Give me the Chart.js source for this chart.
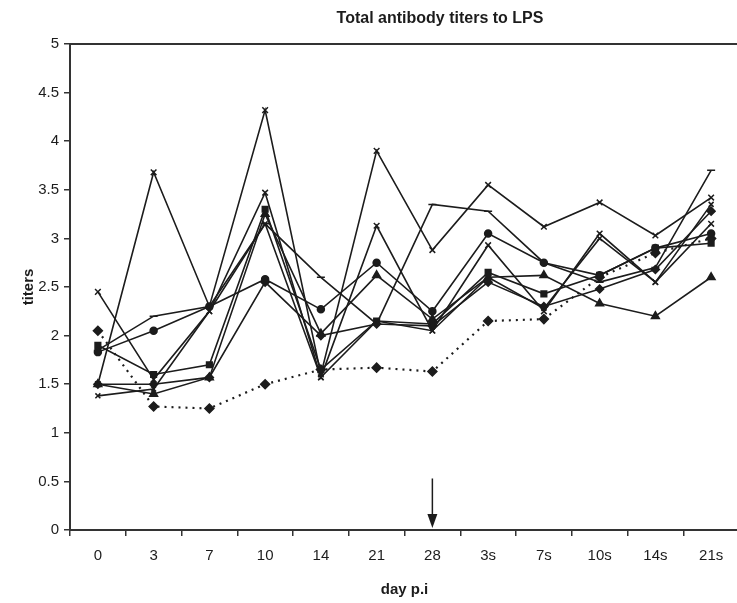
<!doctype html>
<html lang="en">
<head>
	<meta charset="UTF-8">
	<title>Total antibody titers to LPS</title>
	<script src="https://cdn.jsdelivr.net/npm/chart.js@4"></script>
	<style>
		html, body { margin: 0; padding: 0; background: #fff; overflow: hidden; }
		#wrap { width: 737px; height: 603px; overflow: hidden; }
	</style>
</head>
<body>
	<div id="wrap">
		<canvas id="chart" width="745" height="603"></canvas>
	</div>
	<script>
		const days = ['0', '3', '7', '10', '14', '21', '28', '3s', '7s', '10s', '14s', '21s'];
		const yTicks = [0, 0.5, 1, 1.5, 2, 2.5, 3, 3.5, 4, 4.5, 5];

		// one array per animal / group
		const seriesA = [1.5, 3.68, 2.3, 4.32, 1.6, 3.9, 2.88, 3.55, 3.12, 3.37, 3.03, 3.42];
		const seriesB = [2.45, 1.55, 2.25, 3.47, 1.57, 3.13, 2.05, 2.93, 2.25, 3.05, 2.55, 3.15];
		const seriesC = [1.85, 2.2, 2.3, 3.15, 2.6, 2.12, 3.35, 3.28, 2.75, 2.55, 2.7, 3.7];
		const seriesD = [1.83, 2.05, 2.3, 2.58, 2.27, 2.75, 2.25, 3.05, 2.75, 2.62, 2.9, 3.05];
		const seriesE = [1.9, 1.6, 1.7, 3.3, 1.65, 2.15, 2.12, 2.65, 2.43, 2.62, 2.9, 2.95];
		const seriesF = [1.5, 1.4, 1.57, 3.25, 2.02, 2.62, 2.17, 2.6, 2.62, 2.33, 2.2, 2.6];
		const seriesG = [1.5, 1.5, 1.57, 2.55, 2.0, 2.12, 2.1, 2.55, 2.3, 2.48, 2.68, 3.28];
		const seriesH = [1.38, 1.45, 2.25, 3.15, 1.57, 2.15, 2.05, 2.6, 2.28, 3.0, 2.55, 3.35];
		const control = [2.05, 1.27, 1.25, 1.5, 1.65, 1.67, 1.63, 2.15, 2.17, 2.6, 2.85, 3.0];

		const arrowDay = '28';
		const ink = '#1c1c1c';
		const font = 'Liberation Sans, Arial, sans-serif';

		function line(data, style, radius) {
			return {
				data: data,
				borderColor: ink,
				backgroundColor: ink,
				borderWidth: 1.6,
				pointStyle: style,
				pointRadius: radius,
				pointBorderWidth: 1.5,
				tension: 0,
				fill: false,
			};
		}

		const dotted = line(control, 'rectRot', 4.5);
		dotted.borderDash = [2, 5];
		dotted.borderWidth = 2.2;

		const extras = {
			id: 'extras',
			afterDraw(chart) {
				const c = chart.ctx;
				const a = chart.chartArea;
				const x = chart.scales.x;
				const y = chart.scales.y;
				c.save();
				// frame line on top
				c.strokeStyle = '#333';
				c.lineWidth = 2;
				c.beginPath();
				c.moveTo(a.left, a.top);
				c.lineTo(a.right, a.top);
				c.stroke();
				// arrow at day 28
				const ax = x.getPixelForValue(days.indexOf(arrowDay));
				const y0 = y.getPixelForValue(0.53);
				const y1 = y.getPixelForValue(0.02);
				c.strokeStyle = ink;
				c.fillStyle = ink;
				c.lineWidth = 1.5;
				c.beginPath();
				c.moveTo(ax, y0);
				c.lineTo(ax, y1 - 12);
				c.stroke();
				c.beginPath();
				c.moveTo(ax - 5, y1 - 14);
				c.lineTo(ax + 5, y1 - 14);
				c.lineTo(ax, y1);
				c.closePath();
				c.fill();
				// title
				c.font = 'bold 16px ' + font;
				c.textAlign = 'center';
				c.textBaseline = 'middle';
				c.fillText('Total antibody titers to LPS', 440, 19);
				c.restore();
			}
		};

		new Chart(document.getElementById('chart'), {
			type: 'line',
			data: {
				labels: days,
				datasets: [
					line(seriesA, 'crossRot', 4),
					line(seriesB, 'crossRot', 4),
					line(seriesC, 'line', 4),
					line(seriesD, 'circle', 3.5),
					line(seriesE, 'rect', 4),
					line(seriesF, 'triangle', 4.5),
					line(seriesG, 'rectRot', 4),
					line(seriesH, 'crossRot', 3.5),
					dotted,
				],
			},
			options: {
				responsive: false,
				animation: false,
				layout: { padding: { top: 44, right: 0, left: 0, bottom: 0 } },
				plugins: {
					legend: { display: false },
					tooltip: { enabled: false },
				},
				scales: {
					x: {
						type: 'category',
						offset: true,
						afterFit: (s) => { s.height = 73; },
						grid: { offset: true, drawOnChartArea: false, tickLength: 6, color: '#333', lineWidth: 1.5 },
						border: { color: '#333', width: 2 },
						ticks: { color: ink, font: { family: font, size: 15 }, padding: 11, maxRotation: 0, autoSkip: false },
						title: { display: true, text: 'day p.i', color: ink, font: { family: font, size: 15, weight: 'bold' }, padding: { top: 6 } },
					},
					y: {
						min: 0,
						max: 5,
						afterFit: (s) => { s.width = 70; },
						afterBuildTicks: (s) => { s.ticks = yTicks.map(v => ({ value: v })); },
						grid: { drawOnChartArea: false, tickLength: 6, color: '#333', lineWidth: 1.5 },
						border: { color: '#333', width: 2 },
						ticks: { color: ink, font: { family: font, size: 15 }, padding: 5, callback: (v) => String(v) },
						title: { display: true, text: 'titers', color: ink, font: { family: font, size: 15, weight: 'bold' }, padding: { top: 20, bottom: 2 } },
					},
				},
			},
			plugins: [extras],
		});
	</script>
</body>
</html>
